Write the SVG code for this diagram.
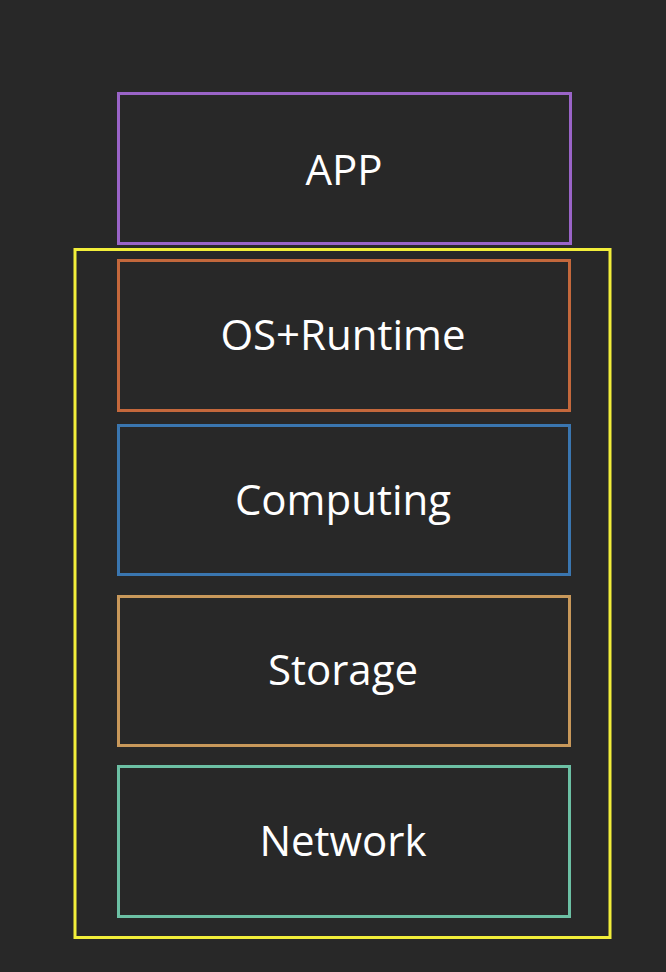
<svg xmlns="http://www.w3.org/2000/svg" width="666" height="972" viewBox="0 0 666 972">
<style>
.box{fill:none;stroke-width:3}
.lbl{fill:#ffffff;font-family:"Open Sans","Noto Sans",sans-serif;font-size:42px;text-anchor:middle}
</style>
<rect width="666" height="972" fill="#282828"/>
<g id="stack"><rect class="box" x="75" y="249.5" width="535" height="688" stroke="#f2ee3a"/></g>
<g id="app"><rect class="box" x="118.5" y="93.5" width="452" height="150" stroke="#9a64c8"/><text class="lbl" x="344" y="185">APP</text></g>
<g id="os"><rect class="box" x="118.5" y="260.5" width="451" height="150" stroke="#c4683c"/><text class="lbl" x="343" y="350">OS+Runtime</text></g>
<g id="computing"><rect class="box" x="118.5" y="425.5" width="451" height="149" stroke="#3a76b0"/><text class="lbl" x="343" y="515">Computing</text></g>
<g id="storage"><rect class="box" x="118.5" y="596.5" width="451" height="149" stroke="#c8985a"/><text class="lbl" x="343" y="685">Storage</text></g>
<g id="network"><rect class="box" x="118.5" y="766.5" width="451" height="150" stroke="#6cc0a4"/><text class="lbl" x="343" y="856">Network</text></g>
<g id="connectors"/>
</svg>
